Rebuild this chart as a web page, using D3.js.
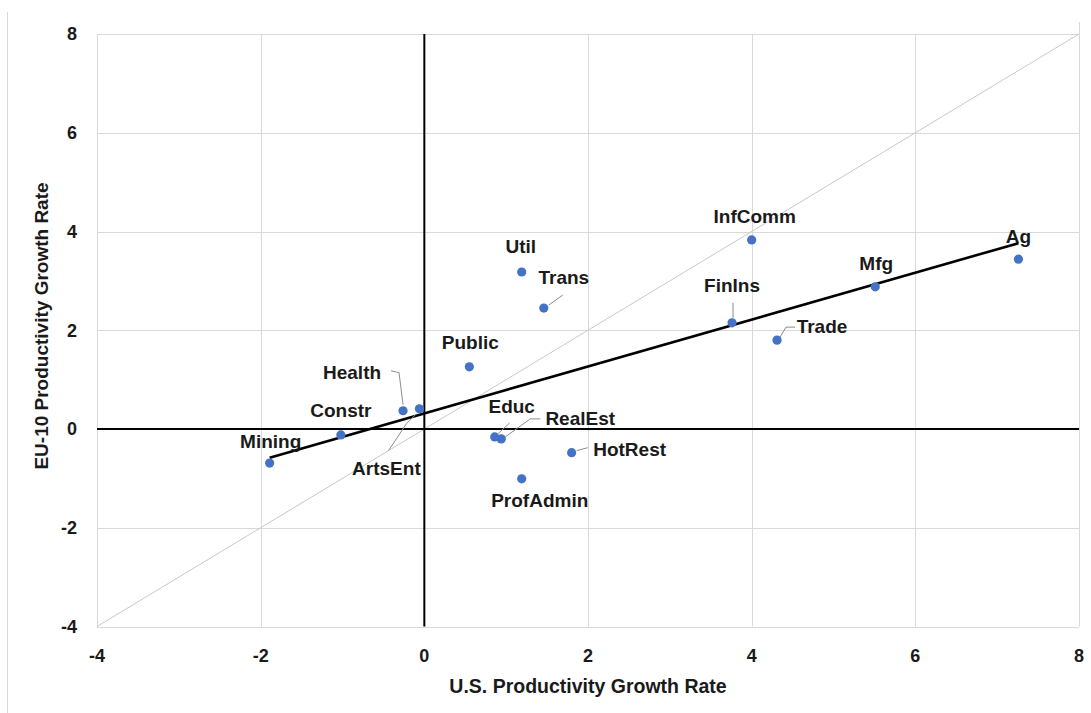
<!DOCTYPE html>
<html>
<head>
<meta charset="utf-8">
<script src="https://cdn.jsdelivr.net/npm/d3@7/dist/d3.min.js"></script>
<style>
  html, body { margin: 0; padding: 0; background: #fff; }
  svg { display: block; }
  text { font-family: "Liberation Sans", Arial, sans-serif; font-weight: bold; fill: #1a1a1a; }
</style>
</head>
<body>
<svg id="chart" width="1091" height="713"></svg>
<script>
// ---- data ----
const sectors = ["Mining","Constr","Health","ArtsEnt","Public","Util","Trans","Educ","RealEst","ProfAdmin","HotRest","FinIns","InfComm","Trade","Mfg","Ag"];
const usGrowth = [-1.89,-1.02,-0.26,-0.06,0.55,1.19,1.46,0.86,0.94,1.19,1.80,3.76,4.00,4.31,5.51,7.26];
const euGrowth = [-0.69,-0.12,0.37,0.41,1.26,3.18,2.45,-0.16,-0.20,-1.01,-0.48,2.15,3.83,1.80,2.88,3.44];
const xTicks = [-4,-2,0,2,4,6,8];
const yTicks = [-4,-2,0,2,4,6,8];
const xTitle = "U.S. Productivity Growth Rate";
const yTitle = "EU-10 Productivity Growth Rate";

// label placement (pixel offsets from the point: text centre x, baseline y) and leader lines
const labelOffsets = {
  Mining:[1,-15], Constr:[0,-18], Health:[-51,-32], ArtsEnt:[-33,66], Public:[1,-18],
  Util:[-1,-19], Trans:[20,-24], Educ:[17,-24], RealEst:[79,-14], ProfAdmin:[18,28],
  HotRest:[58,3], FinIns:[0,-31], InfComm:[3,-17], Trade:[45,-7], Mfg:[1,-17], Ag:[0,-16]
};
const leaders = {
  Health:[[-12,-40],[-4,-38],[0,-6]],
  ArtsEnt:[[-31,42],[-13,15],[-3,5]],
  Trans:[[19,-13],[5,-3]],
  Educ:[[15,-14],[3,-3]],
  RealEst:[[39,-20],[29,-20],[4,-2]],
  HotRest:[[16,-5],[5,-2]],
  FinIns:[[1,-20],[1,-5]],
  Trade:[[18,-13],[9,-13],[3,-3]]
};

const svg = d3.select("#chart");
const x = d3.scaleLinear().domain([-4, 8]).range([97, 1079]);
const y = d3.scaleLinear().domain([-4, 8]).range([626.5, 34]);

// outer chart border (left edge)
svg.append("line").attr("x1",7.5).attr("x2",7.5).attr("y1",12).attr("y2",713)
  .attr("stroke","#d9d9d9").attr("stroke-width",1);

// gridlines
const grid = svg.append("g");
grid.selectAll(".vg").data(xTicks).join("line")
  .attr("x1", d => Math.round(x(d))+0.5).attr("x2", d => Math.round(x(d))+0.5)
  .attr("y1", y(8)).attr("y2", y(-4))
  .attr("stroke", "#d9d9d9").attr("stroke-width", 1);
grid.selectAll(".hg").data(yTicks).join("line")
  .attr("y1", d => Math.round(y(d))+0.5).attr("y2", d => Math.round(y(d))+0.5)
  .attr("x1", x(-4)).attr("x2", x(8))
  .attr("stroke", "#d9d9d9").attr("stroke-width", 1);
// right edge extends slightly above
svg.append("line").attr("x1", Math.round(x(8))+0.5).attr("x2", Math.round(x(8))+0.5)
  .attr("y1", 22).attr("y2", y(-4)).attr("stroke","#d9d9d9");

// 45 degree line
svg.append("line")
  .attr("x1", x(-4)).attr("y1", y(-4)).attr("x2", x(8)).attr("y2", y(8))
  .attr("stroke", "#c8c8c8").attr("stroke-width", 1);

// zero axes
svg.append("line").attr("x1", x(0)).attr("x2", x(0)).attr("y1", y(8)).attr("y2", y(-4))
  .attr("stroke", "#000").attr("stroke-width", 2);
svg.append("line").attr("y1", y(0)).attr("y2", y(0)).attr("x1", x(-4)).attr("x2", x(8))
  .attr("stroke", "#000").attr("stroke-width", 2);

// tick labels
svg.append("g").selectAll("text").data(xTicks).join("text")
  .attr("x", d => x(d)).attr("y", 662).attr("text-anchor","middle")
  .style("font-size","18px").text(d => d);
svg.append("g").selectAll("text").data(yTicks).join("text")
  .attr("x", 77).attr("y", d => y(d)).attr("dy","0.36em").attr("text-anchor","end")
  .style("font-size","18px").text(d => d);

// axis titles
svg.append("text").attr("x", (x(-4)+x(8))/2).attr("y", 693).attr("text-anchor","middle")
  .style("font-size","19.5px").text(xTitle);
svg.append("text").attr("transform","translate(48,326) rotate(-90)").attr("text-anchor","middle")
  .style("font-size","19px").text(yTitle);

// data
const pts = sectors.map((s,i) => ({name:s, ux:usGrowth[i], ey:euGrowth[i]}));

// linear trendline (least squares)
const mx = d3.mean(pts, d => d.ux), my = d3.mean(pts, d => d.ey);
const sxy = d3.sum(pts, d => (d.ux-mx)*(d.ey-my));
const sxx = d3.sum(pts, d => (d.ux-mx)*(d.ux-mx));
const slope = sxy/sxx, icpt = my - slope*mx;
const [xmin, xmax] = d3.extent(pts, d => d.ux);
svg.append("line")
  .attr("x1", x(xmin)).attr("y1", y(icpt+slope*xmin))
  .attr("x2", x(xmax)).attr("y2", y(icpt+slope*xmax))
  .attr("stroke","#000").attr("stroke-width",2.6);

// leader lines
const lineGen = d3.line();
svg.append("g").selectAll("path").data(pts.filter(d => leaders[d.name])).join("path")
  .attr("d", d => lineGen(leaders[d.name].map(o => [x(d.ux)+o[0], y(d.ey)+o[1]])))
  .attr("fill","none").attr("stroke","#8c8c8c").attr("stroke-width",1);

// points
svg.append("g").selectAll("circle").data(pts).join("circle")
  .attr("cx", d => x(d.ux)).attr("cy", d => y(d.ey)).attr("r", 4.6)
  .attr("fill", "#4472c4");

// labels
svg.append("g").selectAll("text").data(pts).join("text")
  .attr("x", d => x(d.ux)+labelOffsets[d.name][0])
  .attr("y", d => y(d.ey)+labelOffsets[d.name][1])
  .attr("text-anchor","middle").style("font-size","19px")
  .text(d => d.name);
</script>
</body>
</html>
